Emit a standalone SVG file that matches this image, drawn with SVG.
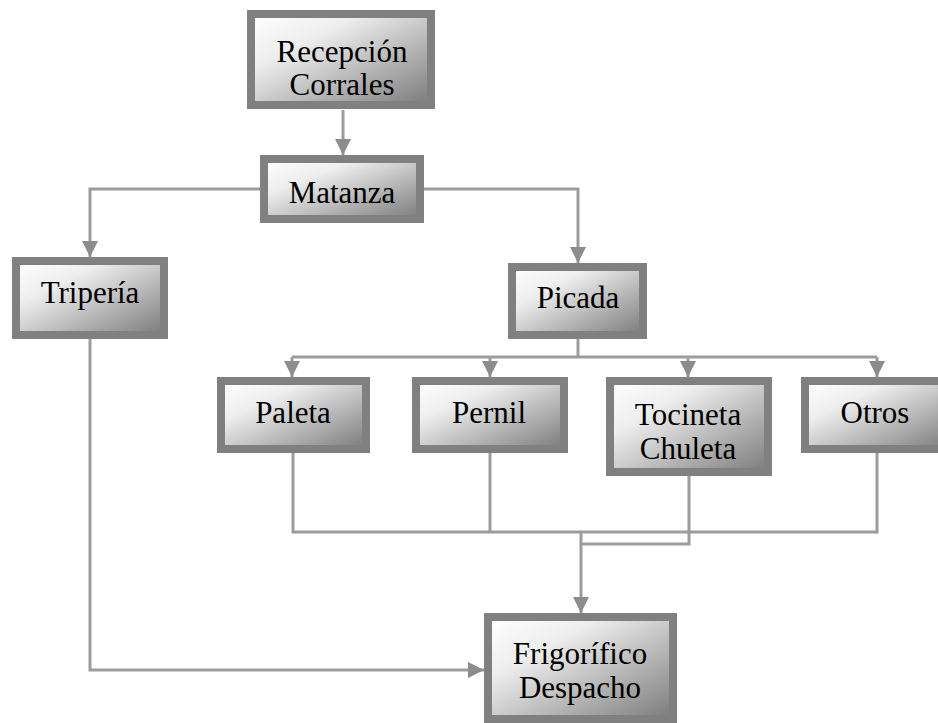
<svg xmlns="http://www.w3.org/2000/svg" width="938" height="723" viewBox="0 0 938 723">
  <defs>
    <linearGradient id="boxFill" x1="0" y1="0" x2="1" y2="1">
      <stop offset="0" stop-color="#ffffff"/>
      <stop offset="0.3" stop-color="#eeeeee"/>
      <stop offset="1" stop-color="#7a7a7a"/>
    </linearGradient>
    <marker id="arrow" viewBox="0 0 16 16" refX="16" refY="8" markerWidth="16" markerHeight="16" markerUnits="userSpaceOnUse" orient="auto">
      <path d="M0,0 L16,8 L0,16 Z" fill="#8c8c8c"/>
    </marker>
  </defs>
  <style>
    .box { fill: url(#boxFill); stroke: #808080; stroke-width: 8; }
    .label { font-family: "Liberation Serif", "Times New Roman", serif; font-size: 31px; fill: #000; text-anchor: middle; }
    .wire { fill: none; stroke: #9c9c9c; stroke-width: 3; }
    .arr { marker-end: url(#arrow); }
  </style>
  <rect width="938" height="723" fill="#ffffff"/>

  <g id="connectors">
    <path class="wire arr" d="M343,110 V155"/>
    <path class="wire arr" d="M260,189 H90 V257"/>
    <path class="wire arr" d="M424,189 H578 V263"/>
    <path class="wire" d="M578,339 V357"/>
    <path class="wire" d="M292,357 H877"/>
    <path class="wire arr" d="M292,357 V377"/>
    <path class="wire arr" d="M490,357 V377"/>
    <path class="wire arr" d="M688,357 V377"/>
    <path class="wire arr" d="M877,357 V377"/>
    <path class="wire" d="M293,453 V532 H877 V453"/>
    <path class="wire" d="M490,453 V532"/>
    <path class="wire" d="M689,476 V544 H581"/>
    <path class="wire arr" d="M581,532 V613"/>
    <path class="wire arr" d="M90,339 V670 H484"/>
  </g>

  <g id="recepcion">
    <rect class="box" x="251" y="14" width="180" height="91"/>
    <text class="label" x="342" y="62">Recepción</text>
    <text class="label" x="342" y="95">Corrales</text>
  </g>
  <g id="matanza">
    <rect class="box" x="264" y="159" width="156" height="60"/>
    <text class="label" x="342" y="203">Matanza</text>
  </g>
  <g id="triperia">
    <rect class="box" x="16" y="261" width="148" height="74"/>
    <text class="label" x="90" y="303">Tripería</text>
  </g>
  <g id="picada">
    <rect class="box" x="512" y="267" width="131" height="68"/>
    <text class="label" x="578" y="308">Picada</text>
  </g>
  <g id="paleta">
    <rect class="box" x="221" y="381" width="145" height="68"/>
    <text class="label" x="293" y="423">Paleta</text>
  </g>
  <g id="pernil">
    <rect class="box" x="416" y="381" width="148" height="68"/>
    <text class="label" x="489" y="423">Pernil</text>
  </g>
  <g id="tocineta">
    <rect class="box" x="610" y="381" width="158" height="91"/>
    <text class="label" x="688" y="425">Tocineta</text>
    <text class="label" x="688" y="459">Chuleta</text>
  </g>
  <g id="otros">
    <rect class="box" x="805" y="381" width="145" height="68"/>
    <text class="label" x="875" y="423">Otros</text>
  </g>
  <g id="frigorifico">
    <rect class="box" x="488" y="617" width="185" height="102"/>
    <text class="label" x="580" y="664">Frigorífico</text>
    <text class="label" x="580" y="698">Despacho</text>
  </g>
</svg>
